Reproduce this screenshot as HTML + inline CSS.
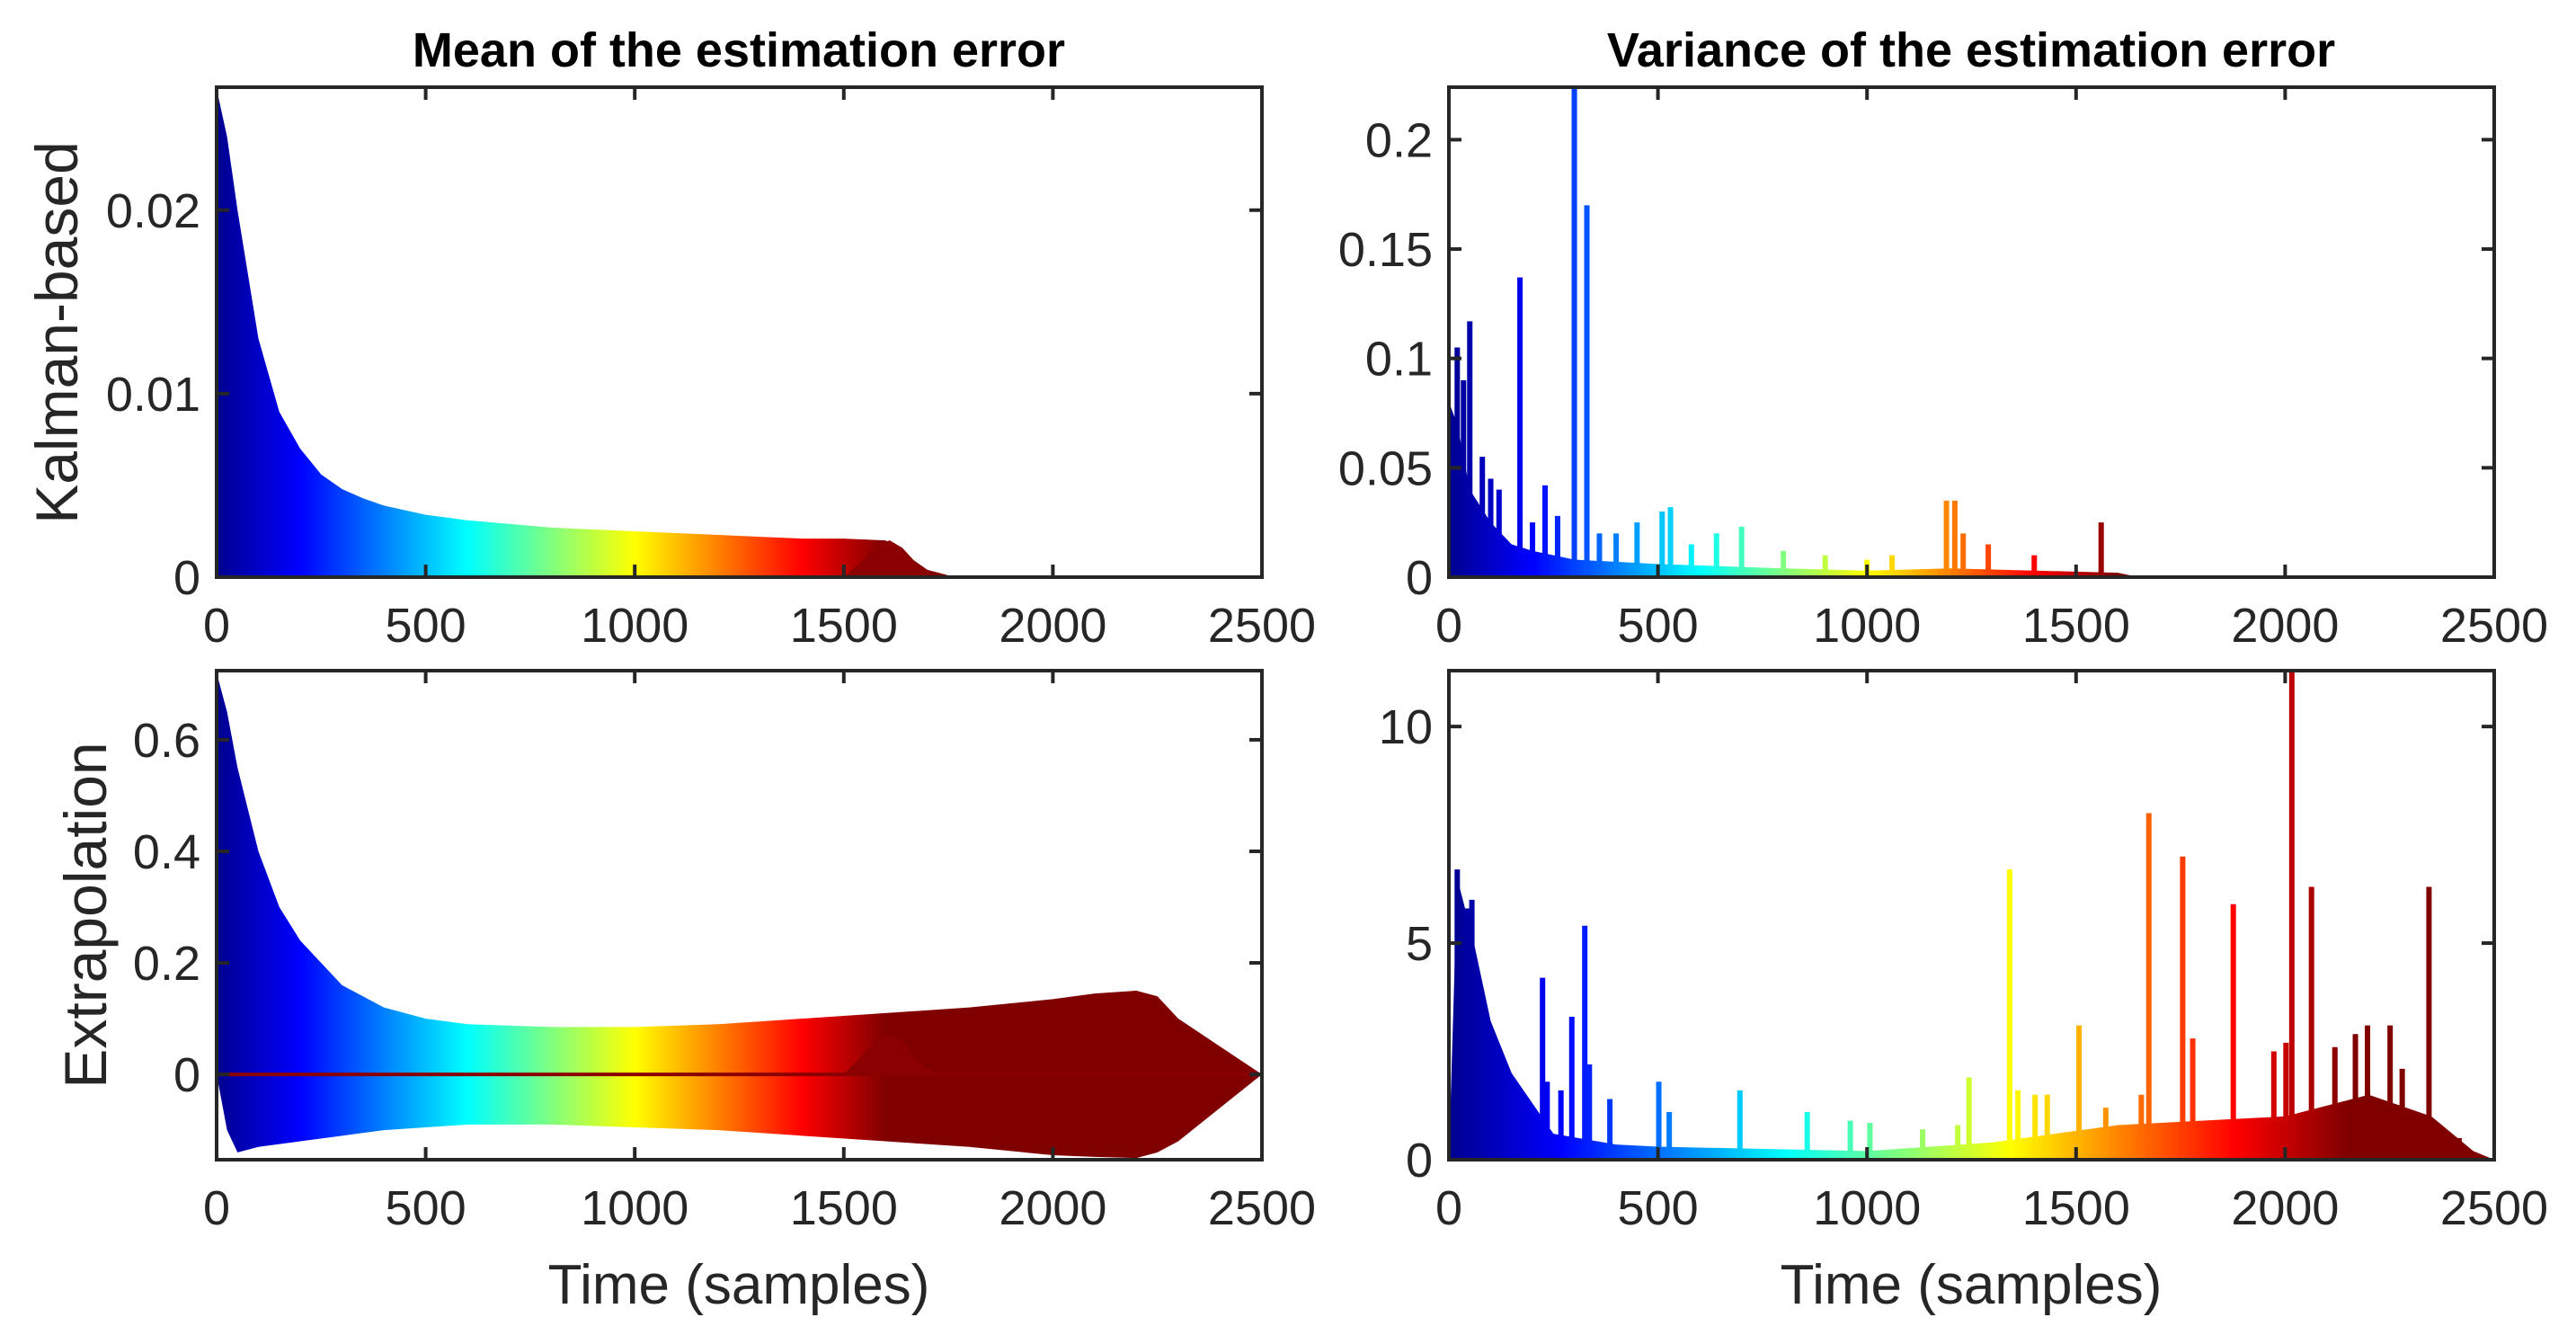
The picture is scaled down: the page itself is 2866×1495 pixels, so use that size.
<!DOCTYPE html>
<html><head><meta charset="utf-8"><style>
html,body{margin:0;padding:0;background:#fff;}
svg{display:block;font-family:"Liberation Sans",Arial,sans-serif;}
</style></head><body>
<svg id="fig" width="2866" height="1495" viewBox="0 0 2866 1495" xmlns="http://www.w3.org/2000/svg">
<defs>
<linearGradient id="jet1600" gradientUnits="userSpaceOnUse" x1="241" y1="0" x2="985" y2="0">
<stop offset="0" stop-color="#00008f"/><stop offset="0.125" stop-color="#0000ff"/><stop offset="0.375" stop-color="#00ffff"/><stop offset="0.625" stop-color="#ffff00"/><stop offset="0.875" stop-color="#ff0000"/><stop offset="1" stop-color="#800000"/>
</linearGradient>
<linearGradient id="jet1600r" gradientUnits="userSpaceOnUse" x1="1612" y1="0" x2="2356" y2="0">
<stop offset="0" stop-color="#00008f"/><stop offset="0.125" stop-color="#0000ff"/><stop offset="0.375" stop-color="#00ffff"/><stop offset="0.625" stop-color="#ffff00"/><stop offset="0.875" stop-color="#ff0000"/><stop offset="1" stop-color="#800000"/>
</linearGradient>
<linearGradient id="jet2150r" gradientUnits="userSpaceOnUse" x1="1612" y1="0" x2="2612" y2="0">
<stop offset="0" stop-color="#00008f"/><stop offset="0.125" stop-color="#0000ff"/><stop offset="0.375" stop-color="#00ffff"/><stop offset="0.625" stop-color="#ffff00"/><stop offset="0.875" stop-color="#ff0000"/><stop offset="1" stop-color="#800000"/>
</linearGradient>
</defs>
<text x="822" y="74" font-size="54" font-weight="bold" text-anchor="middle" fill="#000">Mean of the estimation error</text>
<text x="2193" y="74" font-size="54" font-weight="bold" text-anchor="middle" fill="#000">Variance of the estimation error</text>
<text transform="translate(86,370) rotate(-90)" font-size="66" text-anchor="middle" fill="#262626">Kalman-based</text>
<text transform="translate(118,1018) rotate(-90)" font-size="66" text-anchor="middle" fill="#262626">Extrapolation</text>
<text x="822" y="1450" font-size="62" text-anchor="middle" fill="#262626">Time (samples)</text>
<text x="2193" y="1450" font-size="62" text-anchor="middle" fill="#262626">Time (samples)</text>
</svg>
<script>
// ---- data ----
const meanKT = [0,25,50,100,150,200,250,300,350,400,500,600,700,800,900,1000,1100,1200,1300,1400,1500,1600,1650,1700,1750,1800,2500];
const meanKV = [0.0266,0.024,0.02,0.013,0.009,0.007,0.0056,0.0048,0.0043,0.0039,0.0034,0.0031,0.0029,0.0027,0.0026,0.0025,0.0024,0.0023,0.0022,0.0021,0.0021,0.002,0.0012,0.0004,0.0001,0,0];
const bumpT = [1500,1540,1580,1610,1640,1680,1720];
const bumpKV = [0,0.0008,0.0018,0.002,0.0016,0.0006,0];
const bumpEV = [0,0.03,0.065,0.07,0.06,0.02,0];
const meanET = [0,25,50,100,150,200,300,400,500,600,800,1000,1200,1400,1600,1800,2000,2100,2200,2250,2300,2400,2500];
const meanEU = [0.72,0.65,0.55,0.4,0.3,0.24,0.16,0.12,0.1,0.09,0.085,0.085,0.09,0.1,0.11,0.12,0.135,0.145,0.15,0.14,0.1,0.05,0];
const meanEL = [0,-0.1,-0.14,-0.13,-0.125,-0.12,-0.11,-0.1,-0.095,-0.09,-0.09,-0.095,-0.1,-0.11,-0.12,-0.13,-0.145,-0.148,-0.15,-0.14,-0.12,-0.06,0];
const varKBaseT = [0,20,50,100,150,200,300,500,800,1000,1200,1400,1600,1650,2500];
const varKBaseV = [0.08,0.07,0.04,0.025,0.015,0.012,0.008,0.006,0.004,0.003,0.004,0.003,0.002,0,0];
const varKSpikeT = [20,35,50,80,100,120,170,200,230,260,300,330,360,400,450,510,530,580,640,700,800,900,1000,1060,1190,1210,1230,1290,1400,1560];
const varKSpikeV = [0.105,0.09,0.117,0.055,0.045,0.04,0.137,0.025,0.042,0.028,0.224,0.17,0.02,0.02,0.025,0.03,0.032,0.015,0.02,0.023,0.012,0.01,0.008,0.01,0.035,0.035,0.02,0.015,0.01,0.025];
const varEBaseT = [0,20,60,100,150,250,400,500,1000,1300,1600,2000,2200,2350,2450,2500];
const varEBaseV = [0,6.5,5,3.2,2,0.6,0.35,0.3,0.2,0.4,0.8,1.0,1.5,1.0,0.2,0];
const varESpikeT = [20,45,55,224,235,268,294,325,336,385,502,527,696,857,960,1007,1133,1217,1244,1341,1361,1402,1431,1507,1571,1656,1674,1755,1779,1876,1973,2002,2016,2063,2119,2168,2197,2251,2280,2344,2416];
const varESpikeV = [6.7,5.8,6.0,4.2,1.8,1.6,3.3,5.4,2.2,1.4,1.8,1.1,1.6,1.1,0.9,0.85,0.7,0.8,1.9,6.7,1.6,1.5,1.5,3.1,1.2,1.5,8.0,7.0,2.8,5.9,2.5,2.7,11.3,6.3,2.6,2.9,3.1,3.1,2.1,6.3,0.5];
const xTicks = [0,500,1000,1500,2000,2500];
const yTicksTL = [0,0.01,0.02], yTickLabTL = ['0','0.01','0.02'];
const yTicksTR = [0,0.05,0.1,0.15,0.2], yTickLabTR = ['0','0.05','0.1','0.15','0.2'];
const yTicksBL = [0,0.2,0.4,0.6], yTickLabBL = ['0','0.2','0.4','0.6'];
const yTicksBR = [0,5,10], yTickLabBR = ['0','5','10'];

const NS='http://www.w3.org/2000/svg';
const svg=document.getElementById('fig');
function el(tag,attrs,parent){const e=document.createElementNS(NS,tag);for(const k in attrs)e.setAttribute(k,attrs[k]);(parent||svg).appendChild(e);return e;}
function jet(v){v=Math.max(0,Math.min(1,v));
  const st=[[0,[0,0,143]],[0.125,[0,0,255]],[0.375,[0,255,255]],[0.625,[255,255,0]],[0.875,[255,0,0]],[1,[128,0,0]]];
  for(let i=1;i<st.length;i++){if(v<=st[i][0]){const a=st[i-1],b=st[i],t=(v-a[0])/(b[0]-a[0]);
    return 'rgb('+a[1].map((c,j)=>Math.round(c+(b[1][j]-c)*t)).join(',')+')';}}return 'rgb(128,0,0)';}

function panel(name,x0,x1,y0,y1,ymin,ymax,yt,ytl){
  const g=el('g',{});
  
  
  const sx=v=>x0+(v/2500)*(x1-x0);
  const sy=v=>y1-(v-ymin)/(ymax-ymin)*(y1-y0);
  return {g,sx,sy,x0,x1,y0,y1,yt,ytl};
}
function frame(p){
  const c='#262626';
  xTicks.forEach(t=>{const x=p.sx(t);
    const tk=el('line',{x1:x,x2:x,y1:p.y0,y2:p.y0+14,stroke:c,'stroke-width':4},p.g);
    
    
    el('line',{x1:x,x2:x,y1:p.y1,y2:p.y1-14,stroke:c,'stroke-width':4},p.g);
    const lb=el('text',{x:x,y:p.y1+72,'font-size':54,'text-anchor':'middle',fill:c},p.g);
    lb.textContent=t;
    
    
  });
  p.yt.forEach((t,i)=>{const y=p.sy(t);
    el('line',{x1:p.x0,x2:p.x0+14,y1:y,y2:y,stroke:c,'stroke-width':4},p.g);
    el('line',{x1:p.x1,x2:p.x1-14,y1:y,y2:y,stroke:c,'stroke-width':4},p.g);
    const lb=el('text',{x:p.x0-18,y:y+19,'font-size':54,'text-anchor':'end',fill:c},p.g);
    lb.textContent=p.ytl[i];
    
    
  });
  const r=el('rect',{x:p.x0,y:p.y0,width:p.x1-p.x0,height:p.y1-p.y0,fill:'none',stroke:c,'stroke-width':4},p.g);
  
  
}
function area(p,T,U,L,fill,name){
  let d='M'+p.sx(T[0])+','+p.sy(U[0]);
  for(let i=1;i<T.length;i++)d+='L'+p.sx(T[i])+','+p.sy(U[i]);
  for(let i=T.length-1;i>=0;i--)d+='L'+p.sx(T[i])+','+p.sy(L?L[i]:0);
  const a=el('path',{d:d+'Z',fill:fill},p.g);
  
  
}
function spikes(p,T,V,scale,name){
  T.forEach((t,i)=>{const s=el('line',{x1:p.sx(t),x2:p.sx(t),y1:p.sy(0),y2:p.sy(V[i]),stroke:jet(t/scale),'stroke-width':6},p.g);
    
    });
}
function zeroLine(p){const z=el('line',{x1:p.x0,x2:p.x1,y1:p.sy(0),y2:p.sy(0),stroke:'#8b0000','stroke-width':4},p.g);
  
  }

const tl=panel('mean-kalman-panel',241,1404,97,642,0,0.0267,yTicksTL,yTickLabTL);
area(tl,meanKT,meanKV,null,'url(#jet1600)','mean-kalman-envelope');
area(tl,bumpT,bumpKV,null,'#8b0000','mean-kalman-bump');
zeroLine(tl);frame(tl);
const tr=panel('variance-kalman-panel',1612,2775,97,642,0,0.224,yTicksTR,yTickLabTR);
area(tr,varKBaseT,varKBaseV,null,'url(#jet1600r)','variance-kalman-base');
spikes(tr,varKSpikeT,varKSpikeV,1600,'variance-kalman-spike');
zeroLine(tr);frame(tr);
const bl=panel('mean-extrapolation-panel',241,1404,746,1290,-0.153,0.724,yTicksBL,yTickLabBL);
area(bl,meanET,meanEU,meanEL,'url(#jet1600)','mean-extrapolation-envelope');
area(bl,bumpT,bumpEV,null,'#8b0000','mean-extrapolation-bump');
zeroLine(bl);frame(bl);
const br=panel('variance-extrapolation-panel',1612,2775,746,1290,0,11.29,yTicksBR,yTickLabBR);
area(br,varEBaseT,varEBaseV,null,'url(#jet2150r)','variance-extrapolation-base');
spikes(br,varESpikeT,varESpikeV,2150,'variance-extrapolation-spike');
zeroLine(br);frame(br);
</script>
</body></html>
